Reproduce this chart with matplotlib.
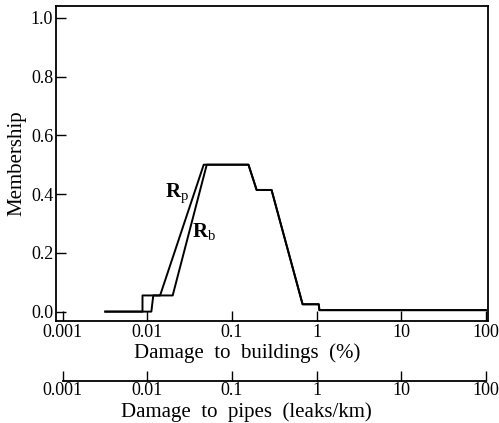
import matplotlib
matplotlib.use("Agg")
import matplotlib.pyplot as plt
from matplotlib.ticker import FixedLocator, NullLocator

plt.rcParams['font.family'] = ['Liberation Serif', 'DejaVu Serif']
plt.rcParams['mathtext.fontset'] = 'custom'
plt.rcParams['mathtext.rm'] = 'Liberation Serif'
plt.rcParams['mathtext.bf'] = 'Liberation Serif:bold'

# membership curves (x = damage to buildings, %)
rp_x = [0.0032, 0.0088, 0.0088, 0.0142, 0.0465, 0.157, 0.196, 0.294, 0.684, 1.06, 1.08, 100]
rp_y = [0.0, 0.0, 0.055, 0.055, 0.50, 0.50, 0.414, 0.414, 0.025, 0.025, 0.005, 0.005]
rb_x = [0.0032, 0.0112, 0.0118, 0.0200, 0.0505, 0.157, 0.196, 0.294, 0.684, 1.06, 1.08, 100]
rb_y = [0.0, 0.0, 0.055, 0.055, 0.50, 0.50, 0.414, 0.414, 0.025, 0.025, 0.005, 0.005]

xticks = [0.001, 0.01, 0.1, 1, 10, 100]
xtick_labels = ['0.001', '0.01', '0.1', '1', '10', '100']
yticks = [0.0, 0.2, 0.4, 0.6, 0.8, 1.0]

fig = plt.figure(figsize=(4.99, 4.23), dpi=100)
ax = fig.add_axes([0.1122, 0.2411, 0.8657, 0.7447])

ax.plot(rp_x, rp_y, color='black', lw=1.4)
ax.plot(rb_x, rb_y, color='black', lw=1.4)

ax.set_xscale('log')
ax.set_xlim(10 ** -3.077, 10 ** 2.024)
ax.set_ylim(-0.032, 1.04)
ax.xaxis.set_major_locator(FixedLocator(xticks))
ax.xaxis.set_minor_locator(NullLocator())
ax.set_xticklabels(xtick_labels)
ax.set_yticks(yticks)
ax.set_yticklabels(['%.1f' % v for v in yticks])
ax.tick_params(direction='in', length=7, width=1, labelsize=13, pad=2)
for s in ax.spines.values():
    s.set_linewidth(1.3)

ax.set_xlabel('Damage  to  buildings  (%)', fontsize=15, labelpad=0)
ax.xaxis.set_label_coords(0.442, -0.072)
ax.set_ylabel('Membership', fontsize=15, labelpad=3)

ax.text(0.0225, 0.40, r'$\mathbf{R}_{\mathrm{p}}$', fontsize=15, ha='center', va='center')
ax.text(0.0475, 0.27, r'$\mathbf{R}_{\mathrm{b}}$', fontsize=15, ha='center', va='center')

# second scale: damage to pipes
ax2 = fig.add_axes([0.1253, 0.0993, 0.8487, 0.0001])
ax2.set_xscale('log')
ax2.set_xlim(0.001, 100)
ax2.xaxis.set_major_locator(FixedLocator(xticks))
ax2.xaxis.set_minor_locator(NullLocator())
ax2.set_xticklabels(xtick_labels)
ax2.set_yticks([])
for side in ['top', 'left', 'right']:
    ax2.spines[side].set_visible(False)
ax2.spines['bottom'].set_linewidth(1.3)
ax2.patch.set_visible(False)
ax2.tick_params(axis='x', direction='in', length=7, width=1, labelsize=13, pad=1)
ax2.set_xlabel('Damage  to  pipes  (leaks/km)', fontsize=15, labelpad=0)
ax2.xaxis.set_label_coords(0.493, 0.050, transform=fig.transFigure)

fig.savefig('out.png', dpi=100)
